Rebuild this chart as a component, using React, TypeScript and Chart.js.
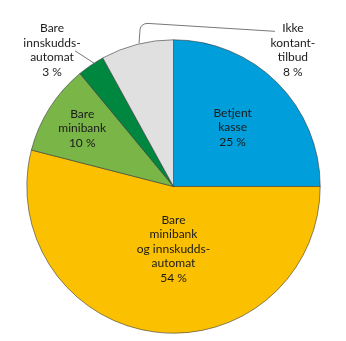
import React, { useEffect, useRef } from "react";
import { Chart, registerables } from "chart.js";

Chart.register(...registerables);

const categories: string[][] = [
  ["Betjent", "kasse"],
  ["Bare", "minibank", "og innskudds-", "automat"],
  ["Bare", "minibank"],
  ["Bare", "innskudds-", "automat"],
  ["Ikke", "kontant-", "tilbud"],
];
const values: number[] = [25, 54, 10, 3, 8];
const colors: string[] = ["#009EDB", "#FBC100", "#7AB547", "#00873F", "#E0E0E0"];

const FONT = "12px Lato, 'Open Sans', sans-serif";
const LINE_H = 14.5;

// label placement: inside (fraction of radius, optional angle in deg) or outside (dx,dy fraction of radius)
const labelPlacement: any[] = [
  { type: "in", r: 0.57 },
  { type: "in", r: 0.425, angle: 90 },
  { type: "in", r: 0.737 },
  { type: "out", dx: -0.828, dy: -0.93 },
  { type: "out", dx: 0.814, dy: -0.93 },
];

const labelPlugin = {
  id: "pieLabels",
  afterDatasetsDraw(chart: any) {
    const ctx = chart.ctx;
    const meta = chart.getDatasetMeta(0);
    ctx.save();
    ctx.font = FONT;
    ctx.fillStyle = "#1a1a1a";
    ctx.textAlign = "center";
    ctx.textBaseline = "middle";
    meta.data.forEach((arc: any, i: number) => {
      const { x, y, startAngle, endAngle, outerRadius } = arc.getProps(
        ["x", "y", "startAngle", "endAngle", "outerRadius"],
        true
      );
      const lines = [...categories[i], `${values[i]} %`];
      const mid = (startAngle + endAngle) / 2;
      const pl = labelPlacement[i];
      let lx: number, ly: number;
      if (pl.type === "in") {
        const a = pl.angle !== undefined ? (pl.angle * Math.PI) / 180 : mid;
        lx = x + Math.cos(a) * outerRadius * pl.r;
        ly = y + Math.sin(a) * outerRadius * pl.r;
      } else {
        lx = x + pl.dx * outerRadius;
        ly = y + pl.dy * outerRadius;
        // leader line
        const px = x + Math.cos(mid) * outerRadius;
        const py = y + Math.sin(mid) * outerRadius;
        ctx.save();
        ctx.strokeStyle = "#555";
        ctx.lineWidth = 0.8;
        ctx.beginPath();
        const top = ly - ((lines.length - 1) * LINE_H) / 2;
        if (i === 3) {
          ctx.moveTo(lx + 23, top + 2 * LINE_H - 6.5);
          ctx.lineTo(px + 3, py - 2);
        } else {
          ctx.moveTo(px + 2, py - 1);
          ctx.lineTo(px + 3, py - 15);
          ctx.quadraticCurveTo(px + 4, py - 21, px + 11, py - 21);
          ctx.lineTo(lx - 18, top + 3);
        }
        ctx.stroke();
        ctx.restore();
      }
      const start = ly - ((lines.length - 1) * LINE_H) / 2;
      lines.forEach((t, k) => ctx.fillText(t, lx, start + k * LINE_H));
    });
    ctx.restore();
  },
};

export default function App() {
  const ref = useRef<HTMLCanvasElement>(null);
  useEffect(() => {
    if (!ref.current) return;
    const chart = new Chart(ref.current, {
      type: "pie",
      data: {
        labels: categories.map((c) => c.join(" ")),
        datasets: [
          {
            data: values,
            backgroundColor: colors,
            borderColor: "#3a3a3a",
            borderWidth: 0.6,
          },
        ],
      },
      options: {
        responsive: false,
        animation: false,
        layout: { padding: { top: 39.5, bottom: 7.5, left: 26.5, right: 25.5 } },
        plugins: { legend: { display: false }, tooltip: { enabled: false } },
      },
      plugins: [labelPlugin],
    });
    return () => chart.destroy();
  }, []);
  return (
    <div style={{ position: "absolute", left: 0, top: 0, width: 346, height: 341, background: "#fff" }}>
      <canvas ref={ref} width={346} height={341} style={{ display: "block" }} />
    </div>
  );
}
